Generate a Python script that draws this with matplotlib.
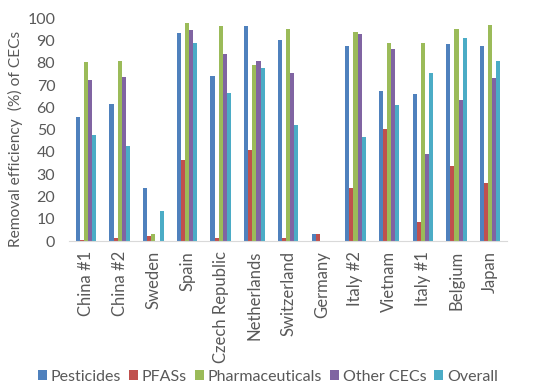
import matplotlib as mpl
import matplotlib.pyplot as plt
import numpy as np

countries = ["China #1", "China #2", "Sweden", "Spain", "Czech Republic", "Netherlands",
             "Switzerland", "Germany", "Italy #2", "Vietnam", "Italy #1", "Belgium", "Japan"]

pesticides = [55.5, 61.3, 23.8, 93.4, 74.0, 96.3, 90.1, 3.0, 87.3, 67.3, 66.0, 88.3, 87.3]
pfass = [0.5, 1.5, 2.2, 36.5, 1.5, 40.7, 1.5, 3.4, 24.0, 50.2, 8.5, 33.9, 26.0]
pharmaceuticals = [80.3, 81.0, 3.0, 98.0, 96.3, 79.2, 95.0, 0, 93.7, 88.9, 88.9, 95.0, 96.9]
other_cecs = [72.2, 73.7, 0, 94.8, 84.0, 80.9, 75.3, 0, 92.8, 86.4, 39.2, 63.2, 73.2]
overall = [47.5, 42.7, 13.3, 89.0, 66.4, 77.6, 51.9, 0, 46.8, 61.1, 75.2, 91.3, 81.0]

series_names = ["Pesticides", "PFASs", "Pharmaceuticals", "Other CECs", "Overall"]
colors = ["#4F81BD", "#C0504D", "#9BBB59", "#8064A2", "#4BACC6"]

mpl.rcParams.update({'font.family': ['Lato', 'DejaVu Sans'], 'font.size': 12})

fig = plt.figure(figsize=(5.36, 3.87), dpi=100, facecolor='white')
ax = fig.add_axes([0.129, 0.377, 0.817, 0.576])

x = np.arange(len(countries))
w = 0.122
data = [pesticides, pfass, pharmaceuticals, other_cecs, overall]
for i, (vals, name, c) in enumerate(zip(data, series_names, colors)):
    ax.bar(x + (i - 2) * w, vals, w, color=c, label=name)

ax.set_xlim(-0.5, len(countries) - 0.5)
ax.set_ylim(0, 100)
ax.set_yticks(range(0, 101, 10))
ax.set_xticks(x)
ax.set_xticklabels(countries, rotation=90, fontsize=12)
ax.tick_params(axis='y', labelsize=11.5)
ax.tick_params(axis='both', length=0, colors='#595959')
ax.tick_params(axis='y', pad=10)
ax.tick_params(axis='x', pad=7)
for s in ['top', 'right', 'left']:
    ax.spines[s].set_visible(False)
ax.spines['bottom'].set_color('#D9D9D9')
ax.set_ylabel('Removal efficiency  (%) of CECs', color='#595959', fontsize=11.2, labelpad=6)
ax.yaxis.set_label_coords(-0.105, 0.46)

fig.legend(loc='center', bbox_to_anchor=(0.5, 0.026), ncol=5, frameon=False,
           fontsize=11.5, handlelength=0.55, handleheight=0.55, handletextpad=0.25,
           columnspacing=0.5, labelcolor='#595959', borderpad=0)

plt.savefig('out.png', dpi=100)
